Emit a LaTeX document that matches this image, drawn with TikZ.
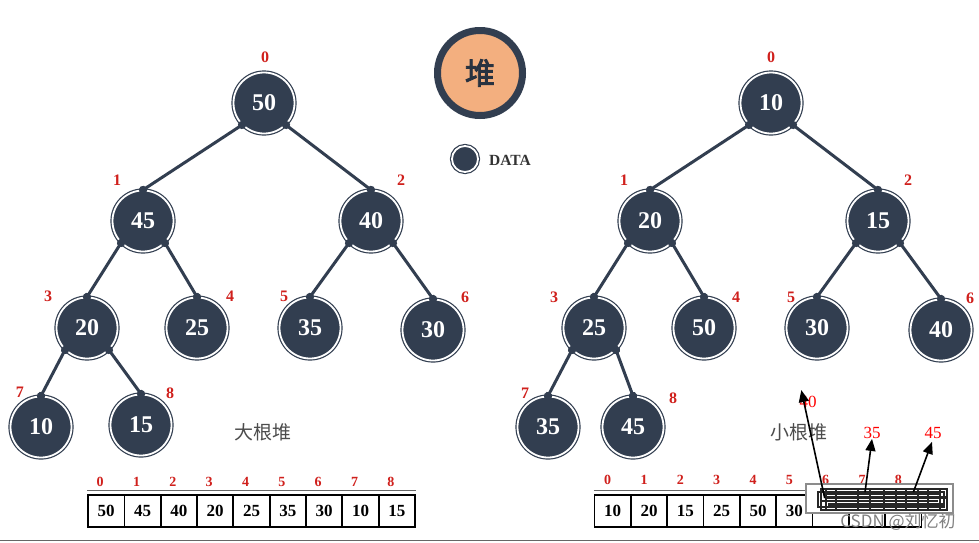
\documentclass[tikz,border=0pt]{standalone}
\usepackage{fontspec}
\setmainfont{Liberation Serif}
\newfontfamily\cjk{Noto Sans CJK SC}
\newfontfamily\cjkbold[FakeBold=3]{Noto Sans CJK SC}
\usetikzlibrary{
    arrows.meta,
    calc
}
\definecolor{heapnavy}{HTML}{323E50}
\definecolor{idxred}{HTML}{D0201C}
\definecolor{heappeach}{HTML}{F3AF7F}
\tikzset{
    treenode/.style={circle, fill=heapnavy, draw=heapnavy, double=white,
        double distance=1.8pt, line width=1.2pt, minimum size=61pt,
        inner sep=0pt, text=white, font=\fontsize{24}{24}\selectfont\bfseries},
    legendnode/.style={treenode, minimum size=26pt},
    badge/.style={circle, fill=heappeach, draw=heapnavy, line width=7pt,
        minimum size=85pt, inner sep=0pt, text=heapnavy!80!black,
        font=\fontsize{30}{30}\selectfont\cjkbold},
    idx/.style={text=idxred, inner sep=0pt, font=\fontsize{16}{16}\selectfont\bfseries},
    arridx/.style={idx, font=\fontsize{14}{14}\selectfont\bfseries},
    branch/.style={heapnavy, line width=3pt,
        {Circle[length=8pt]}-{Circle[length=8pt]},
        shorten <=-4pt, shorten >=-4pt},
    cell/.style={draw, line width=1.7pt, minimum width=36.3pt, minimum height=32pt,
        inner sep=0pt, font=\fontsize{17}{17}\selectfont\bfseries},
    title/.style={text=black!70, inner sep=0pt, font=\fontsize{19}{19}\selectfont\cjk},
    note/.style={text=red, inner sep=0pt, font=\fontsize{17}{17}\selectfont},
    pointer/.style={line width=1.6pt, -{Triangle[length=12pt,width=10pt]}}
}
\begin{document}
\begin{tikzpicture}[x=1pt, y=-1pt]
    \useasboundingbox (0,0) rectangle (979,542);
    \fill[white] (0,0) rectangle (979,542);

    \node[badge] (heap) at (480,73) {堆};
    \node[legendnode] (legend) at (465,159) {};
    \node[anchor=west, inner sep=0pt, text=black!80,
        font=\fontsize{15.5}{15.5}\selectfont\bfseries] (legendtext) at (489,160) {DATA};

    % big root heap
    \node[treenode] (L0) at (264,103) {50};
    \node[treenode] (L1) at (143,221) {45};
    \node[treenode] (L2) at (371,221) {40};
    \node[treenode] (L3) at (87,328) {20};
    \node[treenode] (L4) at (197,328) {25};
    \node[treenode] (L5) at (310,328) {35};
    \node[treenode] (L6) at (433,330) {30};
    \node[treenode] (L7) at (41,427) {10};
    \node[treenode] (L8) at (141,425) {15};
    \node[idx] (Li0) at (265,57) {0};
    \node[idx] (Li1) at (117,180) {1};
    \node[idx] (Li2) at (401,180) {2};
    \node[idx] (Li3) at (48,296) {3};
    \node[idx] (Li4) at (230,296) {4};
    \node[idx] (Li5) at (284,296) {5};
    \node[idx] (Li6) at (465,297) {6};
    \node[idx] (Li7) at (20,392) {7};
    \node[idx] (Li8) at (170,393) {8};
    \draw
    (L0.-135) edge[branch] (L1.north)
    (L0.-45) edge[branch] (L2.north)
    (L1.-135) edge[branch] (L3.north)
    (L1.-45) edge[branch] (L4.north)
    (L2.-135) edge[branch] (L5.north)
    (L2.-45) edge[branch] (L6.north)
    (L3.-135) edge[branch] (L7.north)
    (L3.-45) edge[branch] (L8.north);
    \node[title] (bigtitle) at (263,432) {大根堆};

    % small root heap
    \node[treenode] (R0) at (771,103) {10};
    \node[treenode] (R1) at (650,221) {20};
    \node[treenode] (R2) at (878,221) {15};
    \node[treenode] (R3) at (594,328) {25};
    \node[treenode] (R4) at (704,328) {50};
    \node[treenode] (R5) at (817,328) {30};
    \node[treenode] (R6) at (941,330) {40};
    \node[treenode] (R7) at (548,427) {35};
    \node[treenode] (R8) at (633,427) {45};
    \node[idx] (Ri0) at (771,57) {0};
    \node[idx] (Ri1) at (624,180) {1};
    \node[idx] (Ri2) at (908,180) {2};
    \node[idx] (Ri3) at (554,297) {3};
    \node[idx] (Ri4) at (736,297) {4};
    \node[idx] (Ri5) at (791,297) {5};
    \node[idx] (Ri6) at (970,298) {6};
    \node[idx] (Ri7) at (525,393) {7};
    \node[idx] (Ri8) at (673,398) {8};
    \draw
    (R0.-135) edge[branch] (R1.north)
    (R0.-45) edge[branch] (R2.north)
    (R1.-135) edge[branch] (R3.north)
    (R1.-45) edge[branch] (R4.north)
    (R2.-135) edge[branch] (R5.north)
    (R2.-45) edge[branch] (R6.north)
    (R3.-135) edge[branch] (R7.north)
    (R3.-45) edge[branch] (R8.north);
    \node[title] (smalltitle) at (799,432) {小根堆};

    % arrays
    \foreach \v [count=\i from 0] in {50,45,40,20,25,35,30,10,15} {
        \node[cell] (a\i) at ({106.2+36.33*\i},511) {\v};
        \node[arridx] (ai\i) at ($(a\i.north)+(-6,-12)$) {\i};
    }
    \draw[black!60, line width=0.8pt] ($(a0.north west)+(0,-4)$) -- ($(a8.north east)+(0,-4)$);
    \foreach \v [count=\i from 0] in {10,20,15,25,50,30,{},{},{}} {
        \node[cell] (b\i) at ({612.7+36.33*\i},511) {\v};
        \node[arridx] (bi\i) at ($(b\i.north)+(-5,-14)$) {\i};
    }
    \draw[black!60, line width=0.8pt] ($(b0.north west)+(0,-4)$) -- ($(b8.north east)+(0,-4)$);

    \fill[white] (806,484) rectangle (953,513);
    \draw[black!45, line width=1.6pt] (806,484) rectangle (953,513);
    \draw[black!85, line width=2.2pt] (821,489) rectangle (947,510) (818,492) rectangle (944,507)
    (824,494) -- (940,494) (826,497.5) -- (946,497.5) (822,501) -- (938,501) (828,504.5) -- (944,504.5)
    (826,489) -- (826,510) (836,489) -- (836,510) (858,489) -- (858,510) (870,489) -- (870,510)
    (884,489) -- (884,510) (896,489) -- (896,510) (906,489) -- (906,510) (918,489) -- (918,510)
    (928,489) -- (928,510) (940,489) -- (940,510);
    \node[inner sep=0pt, text=black!50, font=\fontsize{17}{17}\selectfont\cjk] (mark) at (898,522) {CSDN @刘忆初};

    \node[note] (n40) at (808,402) {40};
    \node[note] (n35) at (872,433) {35};
    \node[note] (n45) at (933,433) {45};
    \draw[pointer] ($(b6.north)+(-6,4)$) -- ($(n40.north west)+(2,-6)$);
    \draw[pointer] ($(b7.north)+(-2,-2)$) -- (n35.south);
    \draw[pointer] ($(b8.north)+(10,-2)$) -- ($(n45.south)+(-1,3)$);

    \draw[black!60, line width=1pt] (0,540) -- (979,540);
\end{tikzpicture}
\end{document}
